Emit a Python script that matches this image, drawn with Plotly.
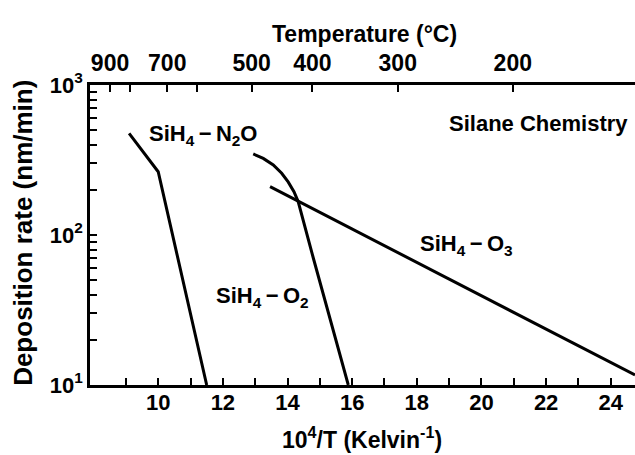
import plotly.graph_objects as go

# ---- data ----
n2o_x = [9.10, 10.00, 11.50]
n2o_y = [476, 264, 10]

o2_x = [12.94, 13.25, 13.56, 13.82, 14.02, 14.20, 14.33, 14.80, 15.88]
o2_y = [347, 324, 293, 258, 226, 194.5, 167, 70, 10]

o3_x = [13.46, 24.75]
o3_y = [210, 11.66]

bottom_tick_vals = list(range(9, 25))
bottom_tick_text = [str(v) if v % 2 == 0 else "" for v in bottom_tick_vals]

top_tick_pos = [8.51, 9.12, 10.28, 11.21, 12.89, 14.77, 17.41, 20.97]
top_tick_text = ["900", "", "700", "", "500", "400", "300", "200"]

y_tick_vals = [10, 20, 30, 40, 50, 60, 70, 80, 90, 100,
               200, 300, 400, 500, 600, 700, 800, 900, 1000]
y_tick_text = ["10<sup>1</sup>"] + [""] * 8 + ["10<sup>2</sup>"] + [""] * 8 + ["10<sup>3</sup>"]

x_range = [7.89, 24.75]

FONT = "Liberation Sans, Arial, sans-serif"
LW = 3

fig = go.Figure()
for xs, ys in [(n2o_x, n2o_y), (o2_x, o2_y), (o3_x, o3_y)]:
    fig.add_trace(go.Scatter(x=xs, y=ys, mode="lines",
                             line=dict(color="black", width=LW),
                             showlegend=False, hoverinfo="skip"))
# invisible trace on the top axis so it is drawn
fig.add_trace(go.Scatter(x=[x_range[0]], y=[10], xaxis="x2", mode="markers",
                         marker=dict(opacity=0), showlegend=False, hoverinfo="skip"))

axis_common = dict(showline=True, linecolor="black", linewidth=2.5,
                   ticks="inside", tickcolor="black", tickwidth=2, ticklen=7,
                   showgrid=False, zeroline=False)

fig.update_layout(
    width=635, height=455,
    margin=dict(l=90, r=0, t=85, b=70),
    paper_bgcolor="white", plot_bgcolor="white",
    font=dict(family=FONT, color="black", size=22, weight="bold"),
    xaxis=dict(range=x_range, tickmode="array", tickvals=bottom_tick_vals,
               ticktext=bottom_tick_text, ticklabelstandoff=-4,
               tickfont=dict(size=22), **axis_common),
    xaxis2=dict(range=x_range, overlaying="x", side="top", anchor="y",
                tickmode="array", tickvals=top_tick_pos, ticktext=top_tick_text,
                tickfont=dict(size=23), ticklabelstandoff=2, **axis_common),
    yaxis=dict(type="log", range=[1, 3], tickmode="array", tickvals=y_tick_vals,
               ticktext=y_tick_text, tickfont=dict(size=22), **axis_common),
    annotations=[
        dict(text="Temperature (°C)", xref="paper", yref="paper", x=0.503, y=1.17,
             showarrow=False, font=dict(size=23), xanchor="center", yanchor="middle"),
        dict(text="10<sup>4</sup>/T (Kelvin<sup>-1</sup>)", xref="paper", yref="paper",
             x=0.499, y=-0.177, showarrow=False, font=dict(size=23),
             xanchor="center", yanchor="middle"),
        dict(text="Deposition rate (nm/min)", xref="paper", yref="paper",
             x=-0.123, y=0.507, showarrow=False, textangle=-90, font=dict(size=26),
             xanchor="center", yanchor="middle"),
        dict(text="SiH<sub>4</sub>\u2009\u2212\u2009N<sub>2</sub>O", x=11.40, y=2.667,
             xref="x", yref="y", showarrow=False, font=dict(size=22)),
        dict(text="SiH<sub>4</sub>\u2009\u2212\u2009O<sub>2</sub>", x=13.22, y=1.589,
             xref="x", yref="y", showarrow=False, font=dict(size=22)),
        dict(text="SiH<sub>4</sub>\u2009\u2212\u2009O<sub>3</sub>", x=19.55, y=1.933,
             xref="x", yref="y", showarrow=False, font=dict(size=22)),
        dict(text="Silane Chemistry", x=24.60, y=2.745, xref="x", yref="y",
             xanchor="right", showarrow=False, font=dict(size=22)),
    ],
)

fig.write_html("out.html")
